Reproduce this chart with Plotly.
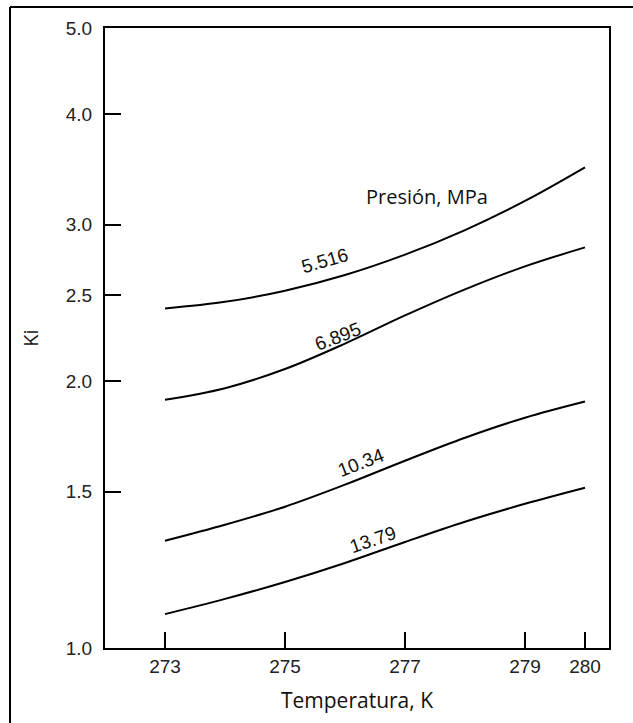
import math
import plotly.graph_objects as go

# Data
temperatura = [273, 274, 275, 276, 277, 278, 279, 280]
ki_5516 = [2.414, 2.456, 2.528, 2.633, 2.776, 2.959, 3.192, 3.483]
ki_6895 = [1.905, 1.963, 2.063, 2.204, 2.371, 2.537, 2.693, 2.829]
ki_1034 = [1.321, 1.377, 1.443, 1.528, 1.626, 1.726, 1.818, 1.896]
ki_1379 = [1.092, 1.136, 1.187, 1.247, 1.317, 1.388, 1.454, 1.516]
series = [("5.516", ki_5516), ("6.895", ki_6895), ("10.34", ki_1034), ("13.79", ki_1379)]

# label positions (T, Ki, angle)
label_pos = [(275.67, 2.735, -16), (275.88, 2.245, -21), (276.27, 1.618, -21), (276.47, 1.326, -19)]

x_ticks = [273, 275, 277, 279, 280]
y_ticks = [1.0, 1.5, 2.0, 2.5, 3.0, 4.0, 5.0]
y_ticktext = ["1.0", "1.5", "2.0", "2.5", "3.0", "4.0", "5.0"]

fig = go.Figure()
for name, ys in series:
    fig.add_trace(go.Scatter(x=temperatura, y=ys, mode="lines", name=name,
                             line=dict(color="black", width=2, shape="spline", smoothing=1.0),
                             showlegend=False, hoverinfo="skip"))

for (name, _), (tx, ty, ang) in zip(series, label_pos):
    fig.add_annotation(x=tx, y=math.log10(ty), yref="y", xref="x", text=name, showarrow=False,
                       textangle=ang, font=dict(family="Liberation Sans, Arial", size=19, color="#111"))

fig.add_annotation(x=277.37, y=math.log10(3.231), xref="x", yref="y", text="Presión, MPa", showarrow=False,
                   font=dict(family="Open Sans", size=20, color="#111"))

axis_common = dict(showline=True, linecolor="black", linewidth=2, mirror=True,
                   ticks="inside", ticklen=16, tickwidth=2, tickcolor="black",
                   showgrid=False, zeroline=False)

fig.update_xaxes(range=[272.0, 280.4], tickvals=x_ticks,
                 tickfont=dict(family="Liberation Sans, Arial", size=19, color="#222"),
                 title=dict(text="Temperatura, K", font=dict(family="Open Sans", size=21, color="#111"), standoff=18),
                 **axis_common)
fig.update_yaxes(type="log", range=[0, 0.69897], tickvals=y_ticks, ticktext=y_ticktext,
                 tickfont=dict(family="Liberation Sans, Arial", size=19, color="#222"),
                 ticklabelstandoff=7,
                 title=dict(text="Ki", font=dict(family="Open Sans", size=20, color="#111"), standoff=22),
                 **axis_common)

# outer frame (left and top edges)
x_left = (10 - 105) / 504
y_top = (648 - 7) / 620
fig.add_shape(type="line", xref="paper", yref="paper", x0=x_left, x1=x_left, y0=y_top, y1=-0.2,
              line=dict(color="black", width=2))
fig.add_shape(type="line", xref="paper", yref="paper", x0=x_left, x1=1.1, y0=y_top, y1=y_top,
              line=dict(color="black", width=2))

fig.update_layout(width=633, height=723, margin=dict(l=105, r=24, t=28, b=75),
                  plot_bgcolor="white", paper_bgcolor="white")

fig.write_html("out.html")
